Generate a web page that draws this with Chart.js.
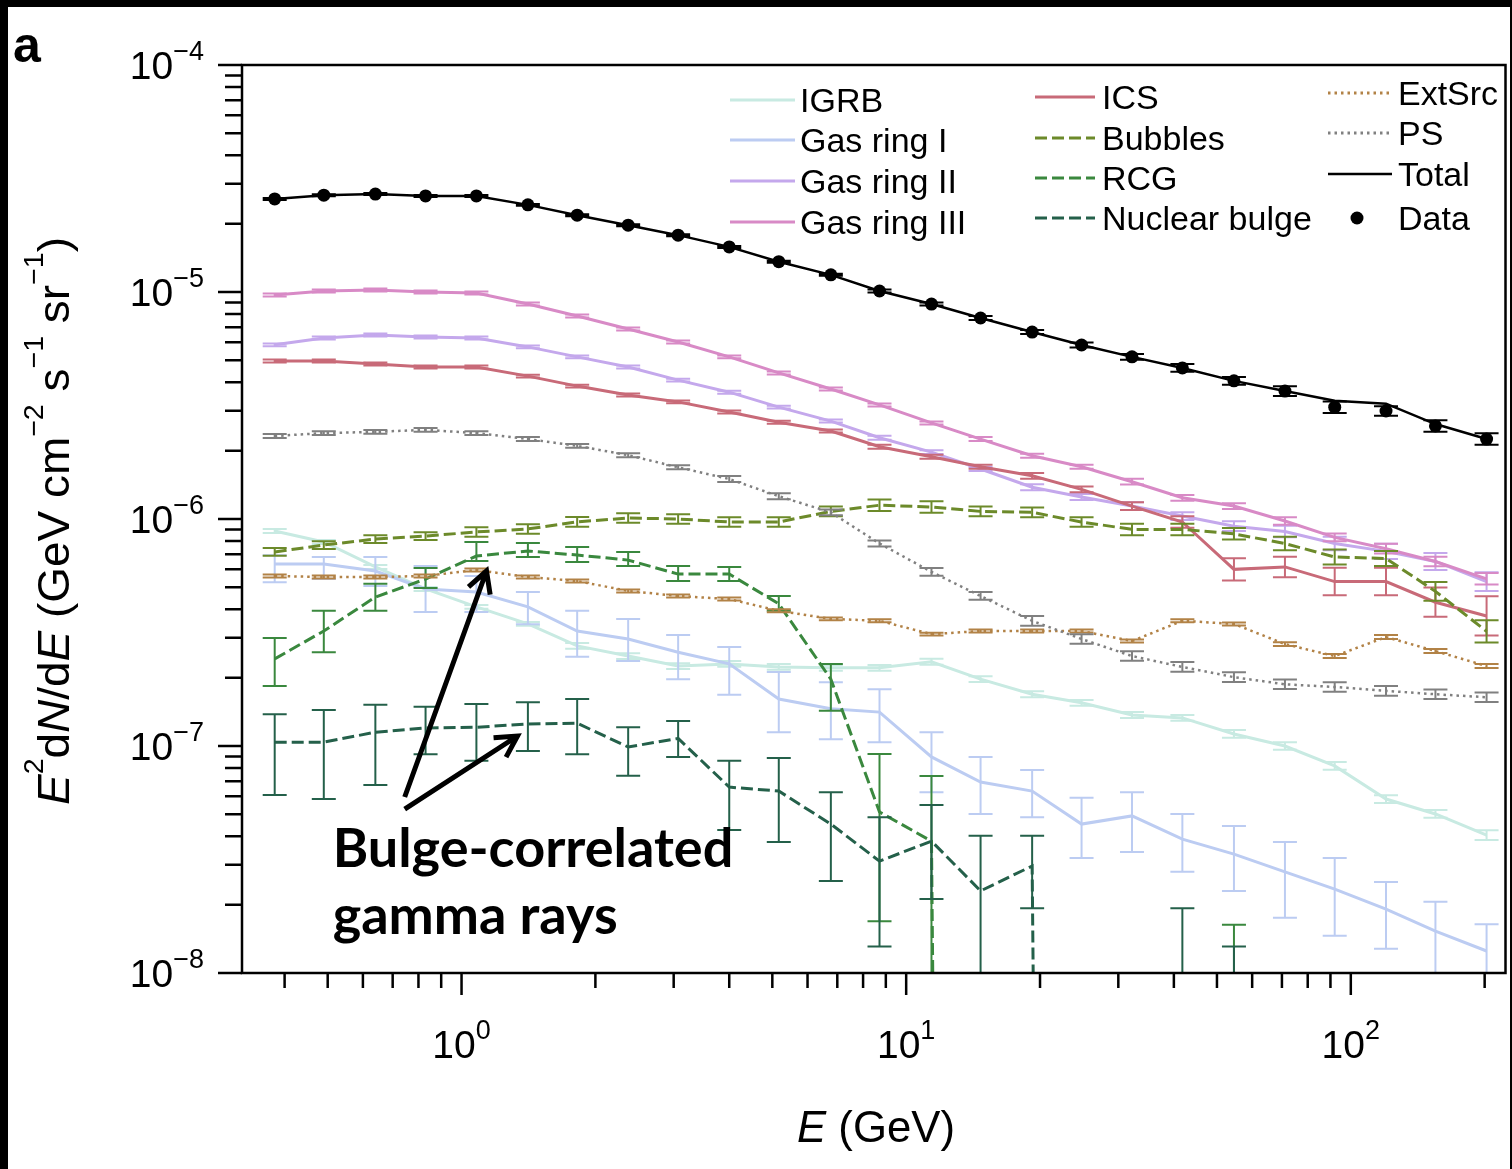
<!DOCTYPE html>
<html>
<head>
<meta charset="utf-8">
<script src="https://cdn.jsdelivr.net/npm/chart.js@4.4.1/dist/chart.umd.min.js"></script>
<style>
  html, body { margin: 0; padding: 0; background: #000; }
  canvas { display: block; }
</style>
</head>
<body>
<canvas id="spectrum" width="1512" height="1169"></canvas>
<script>
// Energy bin centres (GeV)
const energy = [0.38, 0.49, 0.64, 0.83, 1.08, 1.41, 1.82, 2.37, 3.07, 4.0, 5.17, 6.77, 8.71,
                11.4, 14.7, 19.2, 24.8, 32.2, 41.8, 54.6, 71.1, 92.0, 120, 155, 202];

// E^2 dN/dE (GeV cm^-2 s^-1 sr^-1); 0 = below the plotted range
const dataFlux = [2.57e-5, 2.67e-5, 2.70e-5, 2.65e-5, 2.65e-5, 2.42e-5, 2.18e-5, 1.97e-5, 1.78e-5, 1.58e-5, 1.36e-5, 1.19e-5, 1.01e-5,
                  8.85e-6, 7.68e-6, 6.66e-6, 5.84e-6, 5.18e-6, 4.63e-6, 4.06e-6, 3.66e-6, 3.11e-6, 2.99e-6, 2.57e-6, 2.25e-6];
const dataErr = [.01, .01, .01, .01, .01, .01, .01, .01, .01, .01, .01, .01, .015,
                 .015, .02, .02, .025, .03, .04, .04, .05, .06, .05, .06, .06];
const totalFlux = [2.57e-5, 2.67e-5, 2.70e-5, 2.65e-5, 2.65e-5, 2.42e-5, 2.18e-5, 1.97e-5, 1.78e-5, 1.58e-5, 1.36e-5, 1.19e-5, 1.01e-5,
                   8.85e-6, 7.68e-6, 6.66e-6, 5.84e-6, 5.18e-6, 4.63e-6, 4.06e-6, 3.66e-6, 3.32e-6, 3.22e-6, 2.62e-6, 2.25e-6];

const igrb = [8.86e-7, 7.92e-7, 6.15e-7, 4.92e-7, 4.10e-7, 3.45e-7, 2.76e-7, 2.49e-7, 2.25e-7, 2.30e-7, 2.23e-7, 2.21e-7, 2.21e-7,
              2.35e-7, 1.97e-7, 1.69e-7, 1.55e-7, 1.37e-7, 1.33e-7, 1.13e-7, 1.0e-7, 8.17e-8, 5.84e-8, 5.02e-8, 4.05e-8];
const igrbErr = [.02, .02, .02, .02, .02, .02, .03, .03, .03, .03, .03, .03, .03,
                 .03, .03, .03, .03, .03, .03, .04, .04, .04, .04, .04, .05];

const gasRing1 = [6.34e-7, 6.34e-7, 5.90e-7, 4.92e-7, 4.77e-7, 4.10e-7, 3.21e-7, 2.96e-7, 2.59e-7, 2.30e-7, 1.61e-7, 1.46e-7, 1.41e-7,
                  8.95e-8, 6.94e-8, 6.33e-8, 4.53e-8, 4.92e-8, 3.89e-8, 3.34e-8, 2.79e-8, 2.34e-8, 1.91e-8, 1.53e-8, 1.25e-8];
const gasRing1Hi = [6.93e-7, 6.80e-7, 6.80e-7, 6.21e-7, 5.61e-7, 4.77e-7, 3.94e-7, 3.63e-7, 3.08e-7, 2.73e-7, 2.12e-7, 1.91e-7, 1.78e-7,
                    1.15e-7, 8.95e-8, 7.84e-8, 5.91e-8, 6.26e-8, 5.02e-8, 4.44e-8, 3.78e-8, 3.21e-8, 2.52e-8, 2.06e-8, 1.64e-8];
const gasRing1Lo = [5.27e-7, 5.44e-7, 5.07e-7, 3.89e-7, 3.89e-7, 3.44e-7, 2.47e-7, 2.37e-7, 1.97e-7, 1.68e-7, 1.15e-7, 1.07e-7, 1.04e-7,
                    6.26e-8, 5.02e-8, 4.86e-8, 3.21e-8, 3.41e-8, 2.79e-8, 2.30e-8, 1.75e-8, 1.46e-8, 1.28e-8, 0, 0];

const gasRing2 = [5.85e-6, 6.27e-6, 6.47e-6, 6.33e-6, 6.27e-6, 5.73e-6, 5.18e-6, 4.67e-6, 4.09e-6, 3.62e-6, 3.11e-6, 2.70e-6, 2.28e-6,
                  1.97e-6, 1.66e-6, 1.38e-6, 1.25e-6, 1.14e-6, 1.03e-6, 9.3e-7, 8.8e-7, 7.8e-7, 7.2e-7, 6.5e-7, 5.3e-7];
const gasRing2Err = [.015, .015, .015, .015, .015, .015, .015, .015, .015, .015, .015, .015, .02,
                     .02, .02, .03, .03, .04, .04, .05, .06, .07, .08, .09, .1];

const gasRing3 = [9.7e-6, 1.01e-5, 1.02e-5, 1.0e-5, 9.9e-6, 8.85e-6, 7.84e-6, 6.87e-6, 6.02e-6, 5.18e-6, 4.40e-6, 3.74e-6, 3.18e-6,
                  2.65e-6, 2.25e-6, 1.90e-6, 1.70e-6, 1.46e-6, 1.24e-6, 1.14e-6, 9.8e-7, 8.3e-7, 7.4e-7, 6.5e-7, 5.45e-7];
const gasRing3Err = [.015, .015, .015, .015, .015, .015, .015, .015, .015, .015, .015, .015, .015,
                     .015, .02, .02, .02, .03, .03, .03, .04, .04, .05, .05, .06];

const ics = [4.97e-6, 4.97e-6, 4.82e-6, 4.67e-6, 4.67e-6, 4.26e-6, 3.85e-6, 3.52e-6, 3.28e-6, 2.96e-6, 2.67e-6, 2.44e-6, 2.08e-6,
             1.88e-6, 1.70e-6, 1.55e-6, 1.35e-6, 1.14e-6, 9.7e-7, 6.0e-7, 6.15e-7, 5.3e-7, 5.3e-7, 4.3e-7, 3.74e-7];
const icsErr = [.015, .015, .015, .015, .015, .015, .015, .015, .015, .015, .015, .015, .02,
                .02, .02, .03, .03, .04, .06, .12, .11, .15, .15, .16, .22];

const bubbles = [7.16e-7, 7.68e-7, 8.16e-7, 8.41e-7, 8.77e-7, 9.04e-7, 9.71e-7, 1.01e-6, 1.0e-6, 9.7e-7, 9.7e-7, 1.08e-6, 1.15e-6,
                 1.13e-6, 1.08e-6, 1.07e-6, 9.7e-7, 9.0e-7, 9.0e-7, 8.6e-7, 7.8e-7, 6.8e-7, 6.7e-7, 4.8e-7, 3.2e-7];
const bubblesErr = [.04, .04, .04, .04, .05, .05, .05, .05, .05, .05, .05, .05, .06,
                    .06, .05, .05, .05, .06, .06, .06, .07, .08, .08, .1, .12];

const rcg = [2.42e-7, 3.21e-7, 4.53e-7, 5.44e-7, 6.87e-7, 7.23e-7, 6.94e-7, 6.59e-7, 5.72e-7, 5.72e-7, 4.23e-7, 1.97e-7, 5.12e-8,
             3.81e-8, 0, 0, 0, 0, 0, 0, 0, 0, 0, 0, 0];
const rcgHi = [2.99e-7, 3.94e-7, 5.18e-7, 6.08e-7, 7.92e-7, 7.84e-7, 7.53e-7, 7.16e-7, 6.21e-7, 6.15e-7, 4.58e-7, 2.30e-7, 9.23e-8,
               7.38e-8, 0, 0, 0, 0, 0, 1.63e-8, 0, 0, 0, 0, 0];
const rcgLo = [1.84e-7, 2.59e-7, 3.94e-7, 4.97e-7, 6.53e-7, 6.81e-7, 6.47e-7, 6.21e-7, 5.33e-7, 5.33e-7, 3.94e-7, 1.43e-7, 1.69e-8,
               0, 0, 0, 0, 0, 0, 0, 0, 0, 0, 0, 0];

const nuclearBulge = [1.04e-7, 1.04e-7, 1.15e-7, 1.20e-7, 1.21e-7, 1.25e-7, 1.26e-7, 9.9e-8, 1.08e-7, 6.59e-8, 6.33e-8, 4.53e-8, 3.11e-8,
                      3.81e-8, 2.30e-8, 2.96e-8, 0, 0, 0, 0, 0, 0, 0, 0, 0];
const nuclearBulgeHi = [1.38e-7, 1.44e-7, 1.52e-7, 1.49e-7, 1.53e-7, 1.56e-7, 1.61e-7, 1.21e-7, 1.29e-7, 8.6e-8, 8.85e-8, 6.26e-8, 4.86e-8,
                        5.49e-8, 4.02e-8, 4.02e-8, 0, 0, 1.93e-8, 1.31e-8, 0, 0, 0, 0, 0];
const nuclearBulgeLo = [6.08e-8, 5.84e-8, 6.73e-8, 9.2e-8, 8.6e-8, 9.5e-8, 9.2e-8, 7.4e-8, 8.95e-8, 4.27e-8, 3.78e-8, 2.54e-8, 1.31e-8,
                        2.12e-8, 0, 1.93e-8, 0, 0, 0, 0, 0, 0, 0, 0, 0];

const extSrc = [5.61e-7, 5.55e-7, 5.55e-7, 5.61e-7, 5.96e-7, 5.55e-7, 5.33e-7, 4.82e-7, 4.58e-7, 4.44e-7, 3.94e-7, 3.63e-7, 3.56e-7,
                3.11e-7, 3.21e-7, 3.21e-7, 3.21e-7, 2.90e-7, 3.56e-7, 3.45e-7, 2.81e-7, 2.49e-7, 3.02e-7, 2.62e-7, 2.25e-7];
const extSrcErr = [.015, .015, .015, .015, .015, .015, .015, .015, .015, .015, .015, .015, .015,
                   .015, .015, .015, .015, .015, .015, .015, .02, .02, .02, .02, .02];

const pointSrc = [2.32e-6, 2.39e-6, 2.42e-6, 2.47e-6, 2.39e-6, 2.25e-6, 2.10e-6, 1.91e-6, 1.69e-6, 1.50e-6, 1.26e-6, 1.07e-6, 7.8e-7,
                  5.85e-7, 4.58e-7, 3.56e-7, 2.96e-7, 2.49e-7, 2.23e-7, 2.01e-7, 1.87e-7, 1.82e-7, 1.75e-7, 1.69e-7, 1.64e-7];
const pointSrcErr = [.02, .02, .02, .02, .02, .02, .02, .02, .02, .03, .03, .03, .03,
                     .04, .04, .05, .05, .05, .05, .05, .05, .05, .05, .05, .05];

// Axis ticks
const xMajorTicks = [1, 10, 100];
const xMajorLabels = ['0', '1', '2'];
const xMinorTicks = [0.4, 0.5, 0.6, 0.7, 0.8, 0.9, 2, 3, 4, 5, 6, 7, 8, 9, 20, 30, 40, 50, 60, 70, 80, 90, 200];
const yMajorTicks = [1e-8, 1e-7, 1e-6, 1e-5, 1e-4];
const yMajorLabels = ['\u22128', '\u22127', '\u22126', '\u22125', '\u22124'];
const yMinorSteps = [2, 3, 4, 5, 6, 7, 8, 9];
const X_MIN = 0.3208, X_MAX = 222.8;

// Annotation anchor points, in data units (E, flux)
const noteArrows = [[[0.745, 5.96e-8], [1.138, 5.9e-7]], [[0.745, 5.27e-8], [1.336, 1.107e-7]]];
const noteLines = [['Bulge-correlated', 0.513, 2.93e-8], ['gamma rays', 0.513, 1.49e-8]];

// styles
const FONT = '"Liberation Sans", Arial, Helvetica, sans-serif';
const DASH = [12, 5];
const DOT = [2.5, 4];
const style = {
  igrb:   { color: 'rgb(200,234,226)', dash: [] },
  gas1:   { color: 'rgb(188,204,242)', dash: [] },
  gas2:   { color: 'rgb(196,168,236)', dash: [] },
  gas3:   { color: 'rgb(216,138,198)', dash: [] },
  ics:    { color: 'rgb(200,106,120)', dash: [] },
  bub:    { color: 'rgb(108,138,42)', dash: DASH },
  rcg:    { color: 'rgb(58,136,62)', dash: DASH },
  nb:     { color: 'rgb(36,96,74)', dash: DASH },
  ext:    { color: 'rgb(178,130,70)', dash: DOT },
  ps:     { color: 'rgb(128,128,128)', dash: DOT },
  total:  { color: '#000', dash: [] }
};

const BELOW = 1e-30; // non-positive values get clipped far below the axis, as on a log plot
function points(vals) {
  return vals.map((v, i) => ({ x: energy[i], y: v > 0 ? v : BELOW }));
}
function upper(vals, rel) { return vals.map((v, i) => v * (1 + rel[i])); }
function lower(vals, rel) { return vals.map((v, i) => v / (1 + rel[i])); }

function series(label, vals, st, hi, lo, width) {
  return {
    label: label,
    data: points(vals),
    borderColor: st.color,
    backgroundColor: st.color,
    borderDash: st.dash,
    borderWidth: width || 3,
    pointRadius: 0,
    tension: 0,
    fill: false,
    errHi: hi,
    errLo: lo
  };
}

// first entry is painted last (on top)
const datasets = [
  {
    label: 'Data', data: points(dataFlux), showLine: false,
    pointRadius: 6.5, pointHoverRadius: 6.5, pointBackgroundColor: '#000', pointBorderWidth: 0,
    borderColor: '#000', errHi: upper(dataFlux, dataErr), errLo: lower(dataFlux, dataErr)
  },
  series('Total', totalFlux, style.total, null, null, 2.5),
  series('PS', pointSrc, style.ps, upper(pointSrc, pointSrcErr), lower(pointSrc, pointSrcErr), 2.5),
  series('ExtSrc', extSrc, style.ext, upper(extSrc, extSrcErr), lower(extSrc, extSrcErr), 2.5),
  series('Nuclear bulge', nuclearBulge, style.nb, nuclearBulgeHi, nuclearBulgeLo),
  series('RCG', rcg, style.rcg, rcgHi, rcgLo),
  series('Bubbles', bubbles, style.bub, upper(bubbles, bubblesErr), lower(bubbles, bubblesErr)),
  series('ICS', ics, style.ics, upper(ics, icsErr), lower(ics, icsErr)),
  series('Gas ring III', gasRing3, style.gas3, upper(gasRing3, gasRing3Err), lower(gasRing3, gasRing3Err)),
  series('Gas ring II', gasRing2, style.gas2, upper(gasRing2, gasRing2Err), lower(gasRing2, gasRing2Err)),
  series('Gas ring I', gasRing1, style.gas1, gasRing1Hi, gasRing1Lo),
  series('IGRB', igrb, style.igrb, upper(igrb, igrbErr), lower(igrb, igrbErr))
];

const CAP = 12;
const errorBars = {
  id: 'errorBars',
  afterDatasetDraw(chart, args) {
    const ds = chart.data.datasets[args.index];
    if (!ds.errHi) return;
    const ctx = chart.ctx, a = chart.chartArea, xs = chart.scales.x, ys = chart.scales.y;
    ctx.save();
    ctx.beginPath();
    ctx.rect(a.left, a.top, a.right - a.left, a.bottom - a.top);
    ctx.clip();
    ctx.strokeStyle = ds.borderColor;
    ctx.lineWidth = 2;
    ctx.setLineDash([]);
    energy.forEach((e, i) => {
      const hi = ds.errHi[i], lo = ds.errLo[i];
      if (!(hi > 0)) return;
      const px = xs.getPixelForValue(e);
      const top = ys.getPixelForValue(hi);
      const bot = lo > 0 ? ys.getPixelForValue(lo) : a.bottom + 5;
      ctx.beginPath();
      ctx.moveTo(px, top); ctx.lineTo(px, bot);
      ctx.moveTo(px - CAP, top); ctx.lineTo(px + CAP, top);
      if (lo > 0) { ctx.moveTo(px - CAP, bot); ctx.lineTo(px + CAP, bot); }
      ctx.stroke();
    });
    ctx.restore();
  }
};

// draws text runs: kind '' normal, 'i' italic, 's' superscript
function rich(ctx, pieces, fs, sfs, rise, x0, y0, draw) {
  let x = x0;
  for (const [t, k] of pieces) {
    ctx.font = (k === 'i' ? 'italic ' : '') + (k === 's' ? sfs : fs) + 'px ' + FONT;
    if (draw) ctx.fillText(t, x, k === 's' ? y0 - rise : y0);
    x += ctx.measureText(t).width;
  }
  return x - x0;
}

function arrow(ctx, x1, y1, x2, y2) {
  const ang = Math.atan2(y2 - y1, x2 - x1), L = 24, s = 0.5;
  ctx.beginPath();
  ctx.moveTo(x1, y1); ctx.lineTo(x2, y2);
  ctx.moveTo(x2 - L * Math.cos(ang - s), y2 - L * Math.sin(ang - s));
  ctx.lineTo(x2, y2);
  ctx.lineTo(x2 - L * Math.cos(ang + s), y2 - L * Math.sin(ang + s));
  ctx.stroke();
}

const legendCols = [
  { x0: 730, x1: 795, tx: 800, rows: [['IGRB', style.igrb, 100], ['Gas ring I', style.gas1, 140], ['Gas ring II', style.gas2, 181], ['Gas ring III', style.gas3, 222]] },
  { x0: 1035, x1: 1095, tx: 1102, rows: [['ICS', style.ics, 97], ['Bubbles', style.bub, 138], ['RCG', style.rcg, 178], ['Nuclear bulge', style.nb, 218]] },
  { x0: 1328, x1: 1392, tx: 1398, rows: [['ExtSrc', style.ext, 93], ['PS', style.ps, 133], ['Total', style.total, 174], ['Data', null, 218]] }
];

const decor = {
  id: 'decor',
  beforeDraw(chart) {
    const ctx = chart.ctx;
    ctx.save();
    ctx.fillStyle = '#000';
    ctx.fillRect(0, 0, chart.width, chart.height);
    ctx.fillStyle = '#fff';
    ctx.fillRect(8, 7, 1502, chart.height - 7);
    ctx.restore();
  },
  afterDraw(chart) {
    const ctx = chart.ctx, a = chart.chartArea, xs = chart.scales.x, ys = chart.scales.y;
    ctx.save();
    ctx.strokeStyle = '#000';
    ctx.fillStyle = '#000';
    ctx.setLineDash([]);
    ctx.lineWidth = 2.5;
    ctx.strokeRect(a.left, a.top, a.right - a.left, a.bottom - a.top);

    // y ticks
    ctx.beginPath();
    yMajorTicks.forEach((v, i) => {
      const py = ys.getPixelForValue(v);
      ctx.moveTo(a.left - 24, py); ctx.lineTo(a.left, py);
      if (i < yMajorTicks.length - 1) {
        yMinorSteps.forEach(m => {
          const pm = ys.getPixelForValue(m * v);
          ctx.moveTo(a.left - 17, pm); ctx.lineTo(a.left, pm);
        });
      }
    });
    // x ticks
    xMajorTicks.forEach(v => {
      const px = xs.getPixelForValue(v);
      ctx.moveTo(px, a.bottom); ctx.lineTo(px, a.bottom + 22);
    });
    xMinorTicks.forEach(v => {
      const px = xs.getPixelForValue(v);
      ctx.moveTo(px, a.bottom); ctx.lineTo(px, a.bottom + 15);
    });
    ctx.stroke();

    // tick labels
    ctx.textAlign = 'left';
    ctx.textBaseline = 'alphabetic';
    yMajorTicks.forEach((v, i) => {
      const py = ys.getPixelForValue(v);
      const pcs = [['10', ''], [yMajorLabels[i], 's']];
      const w = rich(ctx, pcs, 39, 27, 19, 0, 0, false);
      rich(ctx, pcs, 39, 27, 19, 204 - w, py + 14, true);
    });
    xMajorTicks.forEach((v, i) => {
      const px = xs.getPixelForValue(v);
      const pcs = [['10', ''], [xMajorLabels[i], 's']];
      const w = rich(ctx, pcs, 39, 27, 19, 0, 0, false);
      rich(ctx, pcs, 39, 27, 19, px - w / 2, 1058, true);
    });

    // axis titles
    const xt = [['E', 'i'], [' (GeV)', '']];
    const xw = rich(ctx, xt, 45, 30, 26, 0, 0, false);
    ctx.save();
    ctx.translate(876, 1142);
    ctx.scale(158 / xw, 1);
    rich(ctx, xt, 45, 30, 26, -xw / 2, 0, true);
    ctx.restore();

    const yt = [['E', 'i'], ['2', 's'], ['d', ''], ['N', 'i'], ['/d', ''], ['E', 'i'], [' (GeV cm', ''], ['\u22122', 's'],
                [' s', ''], ['\u22121', 's'], [' sr', ''], ['\u22121', 's'], [')', '']];
    const yw = rich(ctx, yt, 45, 28, 26, 0, 0, false);
    ctx.save();
    ctx.translate(69, 521);
    ctx.rotate(-Math.PI / 2);
    ctx.scale(568 / yw, 1);
    rich(ctx, yt, 45, 28, 26, -yw / 2, 0, true);
    ctx.restore();

    // panel letter
    ctx.font = 'bold 50px ' + FONT;
    ctx.fillText('a', 13, 62);

    // legend
    legendCols.forEach(col => {
      col.rows.forEach(([label, st, y]) => {
        if (st) {
          ctx.save();
          ctx.strokeStyle = st.color;
          ctx.lineWidth = st.color === '#000' ? 2.5 : 3;
          ctx.setLineDash(st.dash);
          ctx.beginPath();
          ctx.moveTo(col.x0, y); ctx.lineTo(col.x1, y);
          ctx.stroke();
          ctx.restore();
        } else {
          ctx.beginPath();
          ctx.arc(1357, y, 6.5, 0, Math.PI * 2);
          ctx.fill();
        }
        ctx.font = '34px ' + FONT;
        ctx.fillText(label, col.tx, y + 12);
      });
    });

    // annotation
    ctx.lineWidth = 5;
    ctx.lineJoin = 'miter';
    noteArrows.forEach(([from, to]) => {
      arrow(ctx, xs.getPixelForValue(from[0]), ys.getPixelForValue(from[1]),
                 xs.getPixelForValue(to[0]), ys.getPixelForValue(to[1]));
    });
    ctx.font = 'bold 54px Lato, "Open Sans", sans-serif';
    noteLines.forEach(([t, e, f]) => {
      ctx.fillText(t, xs.getPixelForValue(e), ys.getPixelForValue(f));
    });
    ctx.restore();
  }
};

// keep the log axis exactly on the requested range (no rounding to a tick)
function pinX(scale) { scale.min = X_MIN; scale.max = X_MAX; }

new Chart(document.getElementById('spectrum'), {
  type: 'line',
  data: { datasets: datasets },
  options: {
    responsive: false,
    devicePixelRatio: 1,
    animation: false,
    layout: { padding: { left: 242, top: 65, right: 4, bottom: 196 } },
    plugins: { legend: { display: false }, tooltip: { enabled: false } },
    scales: {
      x: { type: 'logarithmic', min: X_MIN, max: X_MAX, bounds: 'data', display: false, afterBuildTicks: pinX },
      y: { type: 'logarithmic', min: 1e-8, max: 1e-4, bounds: 'data', display: false }
    }
  },
  plugins: [decor, errorBars]
});
</script>
</body>
</html>
